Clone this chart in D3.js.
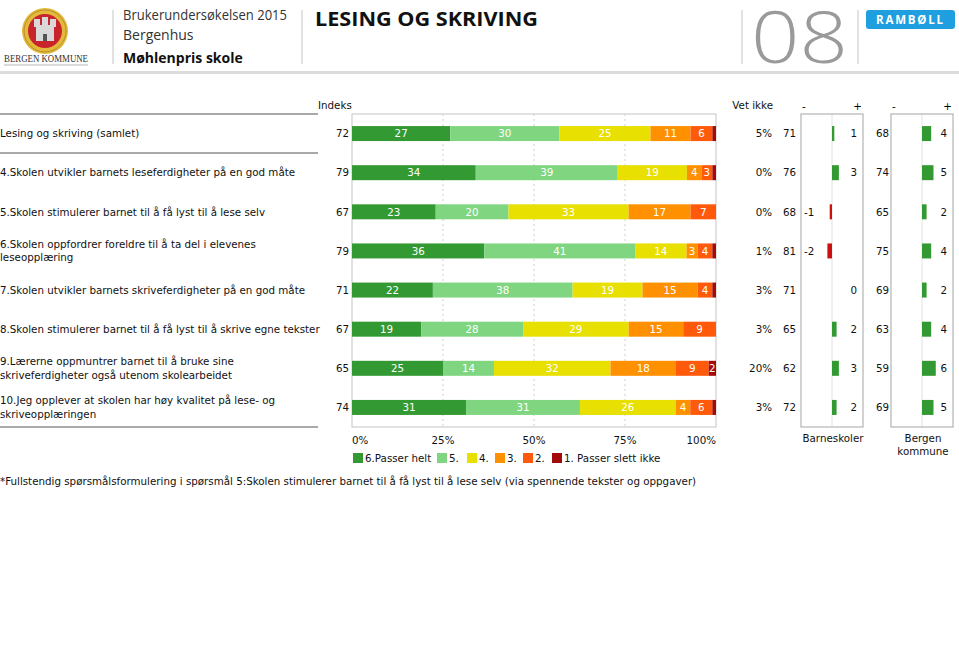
<!DOCTYPE html>
<html><head><meta charset="utf-8">
<script src="https://cdn.jsdelivr.net/npm/d3@7"></script>
<style>
html,body{margin:0;padding:0;background:#fff;}
svg{display:block;}
</style></head>
<body>
<svg id="chart" width="959" height="654"></svg>
<script>
// ---------- DATA ----------
const questions = [
  "Lesing og skriving (samlet)",
  "4.Skolen utvikler barnets leseferdigheter på en god måte",
  "5.Skolen stimulerer barnet til å få lyst til å lese selv",
  "6.Skolen oppfordrer foreldre til å ta del i elevenes\nleseopplæring",
  "7.Skolen utvikler barnets skriveferdigheter på en god måte",
  "8.Skolen stimulerer barnet til å få lyst til å skrive egne tekster",
  "9.Lærerne oppmuntrer barnet til å bruke sine\nskriveferdigheter også utenom skolearbeidet",
  "10.Jeg opplever at skolen har høy kvalitet på lese- og\nskriveopplæringen"
];
const indeks        = [72, 79, 67, 79, 71, 67, 65, 74];
const level6        = [27, 34, 23, 36, 22, 19, 25, 31];
const level5        = [30, 39, 20, 41, 38, 28, 14, 31];
const level4        = [25, 19, 33, 14, 19, 29, 32, 26];
const level3        = [11,  4, 17,  3, 15, 15, 18,  4];
const level2        = [ 6,  3,  7,  4,  4,  9,  9,  6];
const level1        = [ 1,  1,  0,  1,  1,  0,  2,  1];
const vetIkke       = [ 5,  0,  0,  1,  3,  3, 20,  3];
const barneskoler   = [71, 76, 68, 81, 71, 65, 62, 72];
const diffBarneskoler = [1, 3, -1, -2, 0, 2, 3, 2];
const bergen        = [68, 74, 65, 75, 69, 63, 59, 69];
const diffBergen    = [4, 5, 2, 4, 2, 4, 6, 5];
const legendLabels  = ["6.Passer helt", "5.", "4.", "3.", "2.", "1. Passer slett ikke"];
const levelKeys     = ["l6", "l5", "l4", "l3", "l2", "l1"];
const levelColors   = ["#339a33", "#80d680", "#e8e000", "#ff9100", "#ff5a0a", "#a30a0a"];
const tickValues    = [0, 0.25, 0.5, 0.75, 1];
const footnote = "*Fullstendig spørsmålsformulering i spørsmål 5:Skolen stimulerer barnet til å få lyst til å lese selv (via spennende tekster og oppgaver)";

// ---------- BUILD ----------
const rows = questions.map((q, i) => ({
  q, i, l6: level6[i], l5: level5[i], l4: level4[i], l3: level3[i], l2: level2[i], l1: level1[i]
}));

const svg = d3.select("#chart");
const FONT = "'DejaVu Sans', Verdana, sans-serif";
const FS = 10.3;
const BL = 3.8;
const HFONT = "'Open Sans', Lato, sans-serif";

// ---- header ----
const head = svg.append("g");
head.append("rect").attr("x", 0).attr("y", 71).attr("width", 959).attr("height", 3).attr("fill", "#dcdcdc");
[113, 302, 742, 858].forEach(xx => head.append("line").attr("x1", xx).attr("x2", xx).attr("y1", 10).attr("y2", 64).attr("stroke", "#c4c4c4").attr("stroke-width", 1));

// crest (simplified)
const crest = head.append("g").attr("transform", "translate(45,31)");
crest.append("circle").attr("r", 23).attr("fill", "#e2b93b");
crest.append("circle").attr("r", 21).attr("fill", "none").attr("stroke", "#b8902a").attr("stroke-width", 1);
crest.append("circle").attr("r", 17).attr("fill", "#c8242c");
crest.append("rect").attr("x", -9).attr("y", -6).attr("width", 18).attr("height", 16).attr("fill", "#d9d9d9");
crest.append("rect").attr("x", -11).attr("y", -12).attr("width", 6).attr("height", 8).attr("fill", "#d9d9d9");
crest.append("rect").attr("x", 5).attr("y", -12).attr("width", 6).attr("height", 8).attr("fill", "#d9d9d9");
crest.append("rect").attr("x", -3).attr("y", -14).attr("width", 6).attr("height", 9).attr("fill", "#d9d9d9");
crest.append("rect").attr("x", -2).attr("y", 3).attr("width", 4).attr("height", 7).attr("fill", "#555");
head.append("text").attr("x", 4).attr("y", 62).attr("textLength", 84).attr("lengthAdjust", "spacingAndGlyphs")
  .attr("font-family", "'Liberation Serif', serif").attr("font-size", 9.5).attr("fill", "#333").text("BERGEN KOMMUNE");
head.append("line").attr("x1", 4).attr("x2", 88).attr("y1", 65).attr("y2", 65).attr("stroke", "#888").attr("stroke-width", 0.6);

head.append("text").attr("x", 123).attr("y", 20).attr("font-family", HFONT).attr("font-size", 14).attr("fill", "#333")
  .attr("textLength", 164).attr("lengthAdjust", "spacingAndGlyphs").text("Brukerundersøkelsen 2015");
head.append("text").attr("x", 123).attr("y", 40).attr("font-family", HFONT).attr("font-size", 14).attr("fill", "#333").text("Bergenhus");
head.append("text").attr("x", 123).attr("y", 63).attr("font-family", HFONT).attr("font-size", 14).attr("font-weight", "bold").attr("fill", "#111").text("Møhlenpris skole");
head.append("text").attr("x", 315).attr("y", 26).attr("font-family", HFONT).attr("font-size", 20).attr("font-weight", "bold").attr("fill", "#111")
  .attr("textLength", 223).attr("lengthAdjust", "spacingAndGlyphs").text("LESING OG SKRIVING");
head.append("text").attr("x", 751).attr("y", 63).attr("font-family", HFONT).attr("font-size", 72).attr("font-weight", 300).attr("fill", "#9a9a9a")
  .attr("textLength", 97).attr("lengthAdjust", "spacingAndGlyphs").text("08");
head.append("rect").attr("x", 866).attr("y", 10).attr("width", 89).attr("height", 19).attr("rx", 3).attr("fill", "#1f9fe0");
head.append("text").attr("x", 910.5).attr("y", 24).attr("text-anchor", "middle").attr("font-family", HFONT).attr("font-size", 11.5)
  .attr("font-weight", "bold").attr("letter-spacing", 1.8).attr("fill", "#fff").text("RAMBØLL");

// ---- scales ----
const plotTop = 114, plotBottom = 427;
const x = d3.scaleLinear().domain([0, 1]).range([352, 716]);
const y = d3.scaleBand().domain(d3.range(questions.length)).range([plotTop, plotBottom]).padding(0);
const barH = 15;
const yc = i => y(i) + y.bandwidth() / 2;

const stack = d3.stack().keys(levelKeys).offset(d3.stackOffsetExpand);
const series = stack(rows);

// ---- left separators ----
[plotTop, 153, plotBottom].forEach(yy => svg.append("line").attr("x1", 0).attr("x2", 318).attr("y1", yy).attr("y2", yy)
  .attr("stroke", "#8c8c8c").attr("stroke-width", 1.5));

// ---- row labels ----
const lab = svg.append("g").attr("font-family", FONT).attr("font-size", FS).attr("fill", "#111");
rows.forEach((r, i) => {
  const lines = r.q.split("\n");
  const t = lab.append("text").attr("x", 0);
  const lh = 13.5;
  const y0 = yc(i) + BL - (lines.length - 1) * lh / 2;
  lines.forEach((ln, k) => t.append("tspan").attr("x", 0).attr("y", y0 + k * lh).text(ln));
});

// ---- plot frame & grid ----
svg.append("rect").attr("x", x(0)).attr("y", plotTop).attr("width", x(1) - x(0)).attr("height", plotBottom - plotTop)
  .attr("fill", "none").attr("stroke", "#c4c4c4").attr("stroke-width", 1);
svg.append("g").selectAll("line").data([0.25, 0.5, 0.75]).join("line")
  .attr("x1", d => x(d)).attr("x2", d => x(d)).attr("y1", plotTop).attr("y2", plotBottom)
  .attr("stroke", "#cfcfcf").attr("stroke-dasharray", "2,3");

// ---- stacked bars ----
const gBars = svg.append("g");
series.forEach((s, k) => {
  gBars.append("g").attr("fill", levelColors[k]).selectAll("rect").data(s).join("rect")
    .attr("x", d => x(d[0])).attr("width", d => Math.max(0, x(d[1]) - x(d[0])))
    .attr("y", (d, i) => yc(i) - barH / 2).attr("height", barH);
  gBars.append("g").attr("font-family", FONT).attr("font-size", FS).attr("fill", "#fff").attr("text-anchor", "middle")
    .selectAll("text").data(s.filter(d => d.data[s.key] >= 2)).join("text")
    .attr("x", d => (x(d[0]) + x(d[1])) / 2).attr("y", d => yc(d.data.i) + BL)
    .text(d => d.data[s.key]);
});

// ---- column texts ----
const cols = svg.append("g").attr("font-family", FONT).attr("font-size", FS).attr("fill", "#111");
cols.append("text").attr("x", 318).attr("y", 109).text("Indeks");
cols.append("text").attr("x", 773).attr("y", 109).attr("text-anchor", "end").text("Vet ikke");
rows.forEach((r, i) => {
  const yy = yc(i) + BL;
  cols.append("text").attr("x", 349).attr("y", yy).attr("text-anchor", "end").text(indeks[i]);
  cols.append("text").attr("x", 772).attr("y", yy).attr("text-anchor", "end").text(vetIkke[i] + "%");
  cols.append("text").attr("x", 796).attr("y", yy).attr("text-anchor", "end").text(barneskoler[i]);
  cols.append("text").attr("x", 889).attr("y", yy).attr("text-anchor", "end").text(bergen[i]);
});

// ---- difference boxes ----
function diffBox(x0, x1, vals, caption) {
  const cx = (x0 + x1) / 2;
  const dx = d3.scaleLinear().domain([-13.5, 13.5]).range([x0, x1]);
  const g = svg.append("g");
  g.append("line").attr("x1", dx(0)).attr("x2", dx(0)).attr("y1", plotTop).attr("y2", plotBottom).attr("stroke", "#e2e2e2");
  g.append("rect").attr("x", x0).attr("y", plotTop).attr("width", x1 - x0).attr("height", plotBottom - plotTop)
    .attr("fill", "none").attr("stroke", "#b4b4b4").attr("stroke-width", 1.2);
  g.selectAll("rect.b").data(vals).join("rect").attr("class", "b")
    .attr("x", d => dx(Math.min(0, d))).attr("width", d => Math.abs(dx(d) - dx(0)))
    .attr("y", (d, i) => yc(i) - barH / 2).attr("height", barH)
    .attr("fill", d => d < 0 ? "#cc1010" : "#339a33");
  g.selectAll("text.v").data(vals).join("text").attr("class", "v")
    .attr("font-family", FONT).attr("font-size", FS).attr("fill", "#111")
    .attr("x", d => d < 0 ? x0 + 3 : x1 - 6).attr("text-anchor", d => d < 0 ? "start" : "end")
    .attr("y", (d, i) => yc(i) + BL).text(d => d);
  g.append("text").attr("x", x0 + 1).attr("y", 110).attr("font-family", FONT).attr("font-size", FS).text("-");
  g.append("text").attr("x", x1 - 1).attr("y", 110).attr("text-anchor", "end").attr("font-family", FONT).attr("font-size", FS).text("+");
  const cap = g.append("text").attr("font-family", FONT).attr("font-size", FS).attr("fill", "#111").attr("text-anchor", "middle");
  caption.forEach((c, k) => cap.append("tspan").attr("x", cx + 1).attr("y", 442 + k * 13).text(c));
}
diffBox(801, 863, diffBarneskoler, ["Barneskoler"]);
diffBox(891, 953, diffBergen, ["Bergen", "kommune"]);

// ---- x axis labels ----
svg.append("g").attr("font-family", FONT).attr("font-size", FS).attr("fill", "#111")
  .selectAll("text").data(tickValues).join("text")
  .attr("x", d => x(d))
  .attr("text-anchor", d => d === 0 ? "start" : (d === 1 ? "end" : "middle"))
  .attr("y", 444).text(d => d3.format(".0%")(d));

// ---- legend ----
const legX = [353, 437, 467, 495, 523, 552];
const leg = svg.append("g").attr("font-family", FONT).attr("font-size", FS).attr("fill", "#111");
legendLabels.forEach((t, k) => {
  leg.append("rect").attr("x", legX[k]).attr("y", 453).attr("width", 10).attr("height", 10).attr("fill", levelColors[k]);
  leg.append("text").attr("x", legX[k] + 12).attr("y", 462).text(t);
});

// ---- footnote ----
svg.append("text").attr("x", 0).attr("y", 485).attr("font-family", FONT).attr("font-size", FS).attr("fill", "#111").text(footnote);
</script>
</body></html>
